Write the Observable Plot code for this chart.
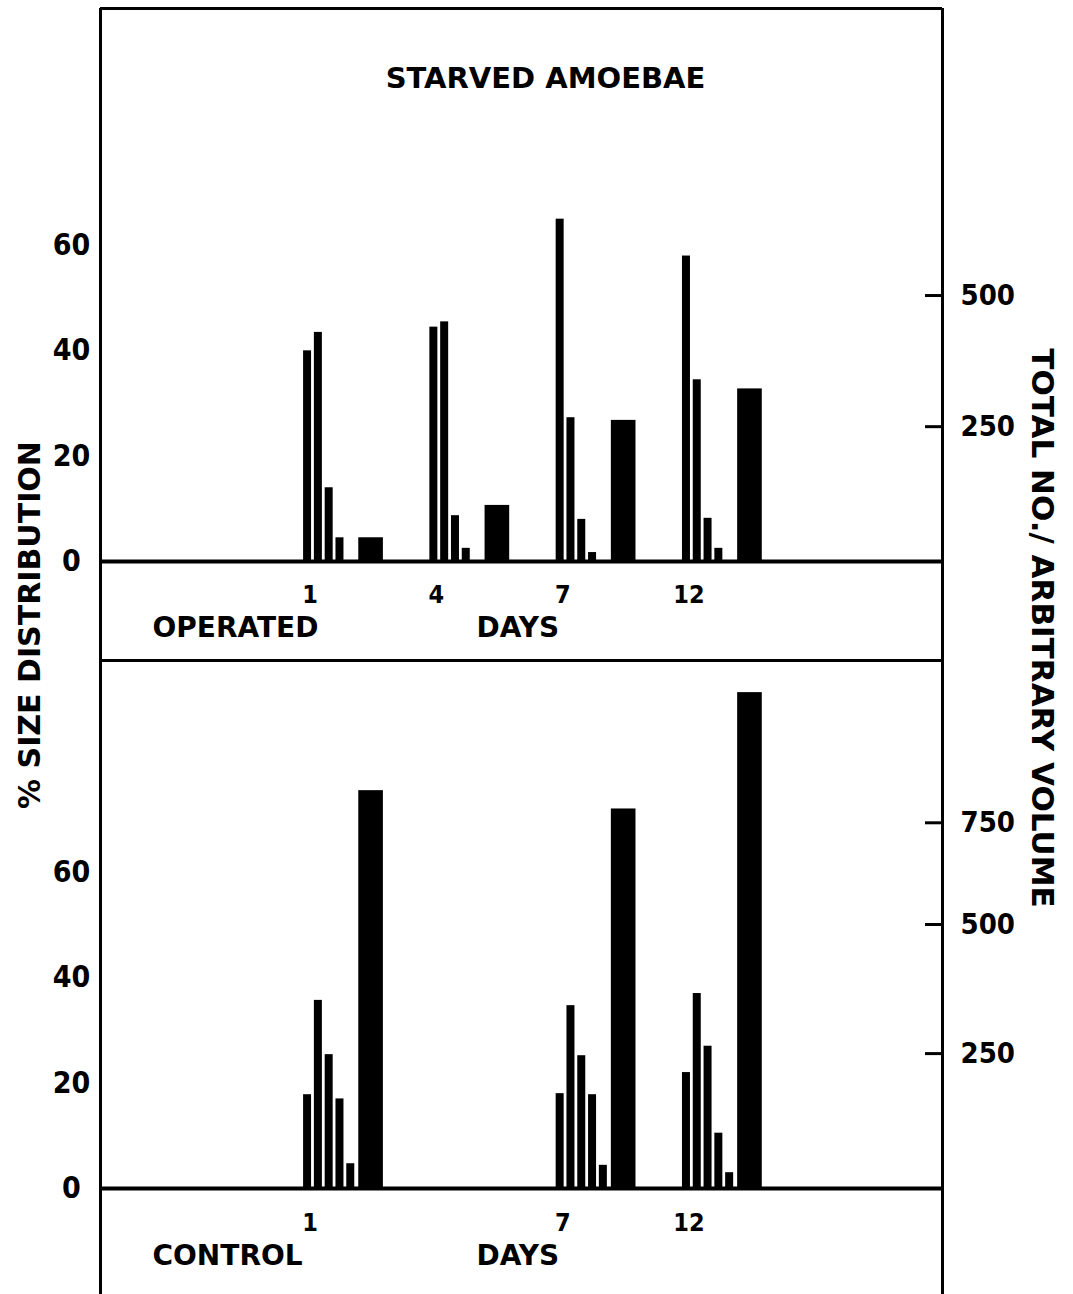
<!DOCTYPE html>
<html><head><meta charset="utf-8">
<script src="https://cdn.jsdelivr.net/npm/d3@7"></script>
<script src="https://cdn.jsdelivr.net/npm/@observablehq/plot@0.6"></script>
<style>
body{margin:0;background:#fff}
#chart{position:relative;width:1073px}
#chart svg{display:block;overflow:visible}
</style></head><body><div id="chart"></div>
<script>
// ---- texts ----
const title = "STARVED AMOEBAE";
const leftTitle = "% SIZE DISTRIBUTION";
const rightTitle = "TOTAL NO./ ARBITRARY VOLUME";
const daysLabel = "DAYS";
const allDays = ["1", "4", "7", "12"];
const leftTicks = [0, 20, 40, 60];

// ---- operated panel ----
const operatedLabel = "OPERATED";
const operatedDays = ["1", "4", "7", "12"];
const operatedSizeClasses = [
  [40, 43.5, 14, 4.5],
  [44.5, 45.5, 8.7, 2.5],
  [65, 27.3, 8, 1.7],
  [58, 34.5, 8.2, 2.5]
];
const operatedVolume = [44, 104, 262, 322];
const operatedRightTicks = [250, 500];
const operatedRightTickAt = [25.6, 50.5]; // positions on the % scale

// ---- control panel ----
const controlLabel = "CONTROL";
const controlDays = ["1", "7", "12"];
const controlSizeClasses = [
  [17.8, 35.7, 25.4, 17, 4.7],
  [18, 34.7, 25.2, 17.8, 4.4],
  [22, 37, 27, 10.5, 3]
];
const controlVolume = [829, 784, 1070];
const controlRightTicks = [250, 500, 750];
const controlRightTickAt = [25.6, 50.1, 69.4];

// ---- layout ----
const W = 1073, ML = 100, MR = 131;
const xDomain = [-1.6, 5.067];
const frameW = W - ML - MR;
const numFont = "'DejaVu Sans Condensed', 'DejaVu Sans', sans-serif";
const wordFont = "'DejaVu Sans', sans-serif";

function panel(o) {
  const slot = d => allDays.indexOf(d);
  const vol2pct = d3.scaleLinear().domain([0, ...o.rTicks]).range([0, ...o.rTickAt]);
  const narrow = o.days.flatMap((d, i) => o.sizes[i].map((v, k) => ({day: d, k, v})));
  const wide = o.days.map((d, i) => ({day: d, v: vol2pct(o.volume[i])}));
  const marks = [
    Plot.rectY(narrow, {x1: d => slot(d.day) + 0.008 + d.k * 0.0855, x2: d => slot(d.day) + 0.008 + d.k * 0.0855 + 0.0633, y: "v", fill: "black"}),
    Plot.rectY(wide, {x1: d => slot(d.day) + 0.445, x2: d => slot(d.day) + 0.64, y: "v", fill: "black"}),
    Plot.ruleY([0], {strokeWidth: 4}),
    Plot.ruleY([o.yMax], {strokeWidth: 3}),
    Plot.ruleX(xDomain, {strokeWidth: 3, insetTop: -o.extendTop, insetBottom: -o.marginBottom}),
    Plot.axisY(leftTicks, {anchor: "left", tickSize: 0, tickPadding: 29, textAnchor: "middle", fontSize: 30, fontFamily: numFont, label: null}),
    Plot.tickY(o.rTickAt, {y: d => d, insetLeft: frameW - 17, strokeWidth: 3}),
    Plot.text(o.rTicks, {y: (d, i) => o.rTickAt[i], text: d => String(d), frameAnchor: "right", dx: 18, textAnchor: "start", lineAnchor: "middle", fontSize: 29, fontFamily: numFont}),
    Plot.text(o.days, {x: d => slot(d) + 0.06, text: d => d, frameAnchor: "bottom", dy: o.dayDy, lineAnchor: "middle", fontSize: 25, fontFamily: numFont}),
    Plot.text([o.label], {text: d => d, frameAnchor: "bottom-left", dx: 52, dy: o.labelDy, textAnchor: "start", lineAnchor: "middle", fontSize: 28}),
    Plot.text([daysLabel], {text: d => d, frameAnchor: "bottom-left", dx: 376, dy: o.labelDy, textAnchor: "start", lineAnchor: "middle", fontSize: 28})
  ];
  if (o.extra) marks.push(...o.extra);
  return Plot.plot({
    width: W, height: o.height,
    marginLeft: ML, marginRight: MR, marginTop: o.marginTop, marginBottom: o.marginBottom,
    x: {domain: xDomain, axis: null},
    y: {domain: [0, o.yMax]},
    style: {fontFamily: wordFont, fontWeight: "bold", background: "transparent", overflow: "visible", color: "black"},
    marks
  });
}

const topPanel = panel({
  days: operatedDays, sizes: operatedSizeClasses, volume: operatedVolume,
  rTicks: operatedRightTicks, rTickAt: operatedRightTickAt, label: operatedLabel,
  height: 656, marginTop: 8, marginBottom: 95, yMax: 105.0, extendTop: 0,
  dayDy: 33, labelDy: 67,
  extra: [
    Plot.text([title], {text: d => d, frameAnchor: "top", dx: 24, dy: 70, lineAnchor: "middle", fontSize: 29}),
    Plot.text([leftTitle], {text: d => d, frameAnchor: "left", dx: -70, dy: 340, rotate: -90, textAnchor: "middle", lineAnchor: "middle", fontSize: 30}),
    Plot.text([rightTitle], {text: d => d, frameAnchor: "right", dx: 99, dy: 343, rotate: 90, textAnchor: "middle", lineAnchor: "middle", fontSize: 31})
  ]
});
const bottomPanel = panel({
  days: controlDays, sizes: controlSizeClasses, volume: controlVolume,
  rTicks: controlRightTicks, rTickAt: controlRightTickAt, label: controlLabel,
  height: 638, marginTop: 4, marginBottom: 106, yMax: 100.2, extendTop: 4,
  dayDy: 34, labelDy: 68
});
const c = document.getElementById("chart");
c.appendChild(topPanel);
c.appendChild(bottomPanel);
</script></body></html>
